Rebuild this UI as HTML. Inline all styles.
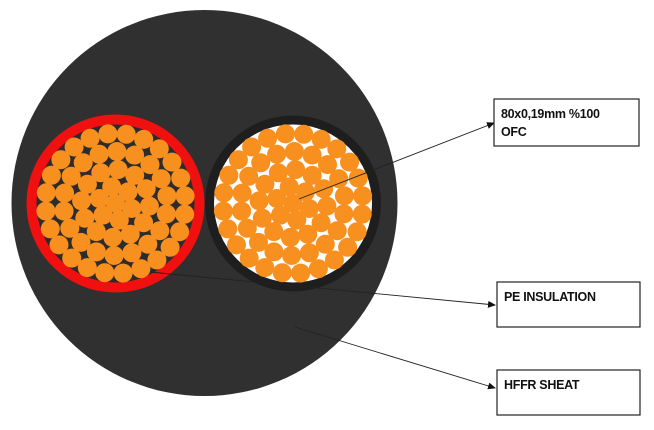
<!DOCTYPE html>
<html><head><meta charset="utf-8"><style>
html,body{margin:0;padding:0;background:#fff;}
svg{display:block}
text{font-family:"Liberation Sans",sans-serif;font-weight:bold;font-size:12.5px;fill:#111;letter-spacing:-0.3px}
</style></head><body>
<svg id="s" width="654" height="430" viewBox="0 0 654 430" xmlns="http://www.w3.org/2000/svg">
<defs><marker id="a" markerWidth="8" markerHeight="8" refX="7" refY="4" orient="auto" markerUnits="userSpaceOnUse"><path d="M0,0.5 L8,4 L0,7.5 z" fill="#111"/></marker></defs>
<circle cx="204.5" cy="203" r="193" fill="#303030"/>
<circle cx="115.5" cy="203.5" r="89" fill="#f01010"/>
<circle cx="115.5" cy="203.5" r="79" fill="#2c2c2c"/>
<circle cx="293" cy="203.5" r="88" fill="#1e1e1e"/>
<circle cx="293" cy="203.5" r="79" fill="#fff"/>
<g id="g1"></g><g id="g2"></g>
<g stroke="#222" stroke-width="0.9" fill="none">
<line x1="299" y1="199" x2="494" y2="123" marker-end="url(#a)"/>
<line x1="150" y1="272" x2="495" y2="305" marker-end="url(#a)"/>
<line x1="295" y1="327" x2="495" y2="388" marker-end="url(#a)"/>
</g>
<g fill="#fff" stroke="#222" stroke-width="1.2">
<rect x="494" y="99" width="145" height="47"/>
<rect x="497" y="282" width="143" height="45"/>
<rect x="497" y="370" width="143" height="45"/>
</g>
<text x="501" y="118">80x0,19mm %100</text>
<text x="501" y="136">OFC</text>
<text x="504" y="301">PE INSULATION</text>
<text x="504" y="389">HFFR SHEAT</text>
</svg>
<script>
function fill(id,cx,cy){var g=document.getElementById(id),h='';
var rings=[[0,1],[17,6],[34,12],[52,18],[70,24]];
rings.forEach(function(r,i){for(var k=0;k<r[1];k++){var a=2*Math.PI*k/r[1]+i*0.3;
h+='<circle cx="'+(cx+r[0]*Math.cos(a)).toFixed(1)+'" cy="'+(cy+r[0]*Math.sin(a)).toFixed(1)+'" r="9.5" fill="#f7901e"/>';}});
g.innerHTML=h;}
fill('g1',115.5,203.5);fill('g2',293,203.5);
</script>
</body></html>
